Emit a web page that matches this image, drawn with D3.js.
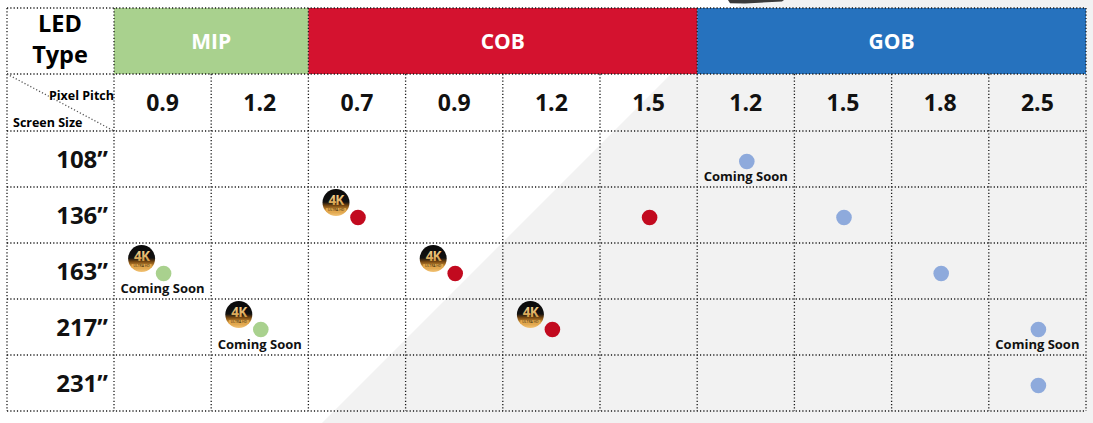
<!DOCTYPE html>
<html><head><meta charset="utf-8">
<script src="https://cdn.jsdelivr.net/npm/d3@7/dist/d3.min.js"></script>
<style>
html,body{margin:0;padding:0;background:#fff;}
svg{display:block;font-family:"Open Sans",sans-serif;font-weight:700;}
</style></head><body>
<svg id="chart" width="1093" height="423"></svg>
<script>
// ---- data ----
const ledTypes = ["MIP", "COB", "GOB"];
const typeColors = ["#a9d18e", "#d4122f", "#2672be"];
const dotColors = ["#a9d18e", "#c20a1f", "#8eaadc"];
const pitchLabels = ["0.9", "1.2", "0.7", "0.9", "1.2", "1.5", "1.2", "1.5", "1.8", "2.5"];
const pitchType = ["MIP", "MIP", "COB", "COB", "COB", "COB", "GOB", "GOB", "GOB", "GOB"];
const screenSizes = ["108\u201D", "136\u201D", "163\u201D", "217\u201D", "231\u201D"];
// available products: column index (pitch), screen size, 4K badge, coming soon
const availCol    = [6, 2, 5, 7, 0, 3, 8, 1, 4, 9, 9];
const availSize   = ["108\u201D", "136\u201D", "136\u201D", "136\u201D", "163\u201D", "163\u201D", "163\u201D", "217\u201D", "217\u201D", "217\u201D", "231\u201D"];
const avail4K     = [false, true, false, false, true, true, false, true, true, false, false];
const availSoon   = [true, false, false, false, true, false, false, true, false, true, false];

// ---- layout ----
const svg = d3.select("#chart");
const W = 1093, H = 423;
const gridL = 7, labelR = 114, gridR = 1086;
const gridT = 8, headB = 74, pitchB = 131, gridB = 411;

const x = d3.scaleBand().domain(d3.range(pitchLabels.length)).range([labelR, gridR]);
const y = d3.scaleBand().domain(screenSizes).range([pitchB, gridB]);

// defs
const defs = svg.append("defs");
const gold = defs.append("linearGradient").attr("id", "gold").attr("x1", 0).attr("y1", 0).attr("x2", 0).attr("y2", 1);
gold.append("stop").attr("offset", "0%").attr("stop-color", "#0a0a0a");
gold.append("stop").attr("offset", "48%").attr("stop-color", "#111");
gold.append("stop").attr("offset", "62%").attr("stop-color", "#7a4a12");
gold.append("stop").attr("offset", "80%").attr("stop-color", "#d89a3c");
gold.append("stop").attr("offset", "100%").attr("stop-color", "#f3c477");
const goldTxt = defs.append("linearGradient").attr("id", "goldTxt").attr("x1", 0).attr("y1", 0).attr("x2", 0).attr("y2", 1);
goldTxt.append("stop").attr("offset", "0%").attr("stop-color", "#fbe3a6");
goldTxt.append("stop").attr("offset", "100%").attr("stop-color", "#c98a2c");

// background: diagonal grey area
svg.append("rect").attr("width", W).attr("height", H).attr("fill", "#ffffff");
svg.append("path")
  .attr("d", `M745,0 L${W},0 L${W},${H} L${745 - H},${H} Z`)
  .attr("fill", "#f2f2f2");
// small dark sliver at the top (cropped object)
svg.append("path").attr("d", "M728,0 L784,0 L782,1.5 L745,3.5 L730,3.2 Z").attr("fill", "#3a3a3a");

// header type cells
const typeSpan = ledTypes.map(t => {
  const idx = pitchType.map((p, i) => p === t ? i : -1).filter(i => i >= 0);
  return {t, x0: x(idx[0]), x1: x(idx[idx.length - 1]) + x.bandwidth()};
});
svg.selectAll("rect.type").data(typeSpan).join("rect")
  .attr("x", d => d.x0).attr("y", gridT).attr("width", d => d.x1 - d.x0).attr("height", headB - gridT)
  .attr("fill", (d, i) => typeColors[i]);
svg.selectAll("text.type").data(typeSpan).join("text")
  .attr("x", d => (d.x0 + d.x1) / 2).attr("y", 48.5)
  .attr("text-anchor", "middle").attr("fill", "#fff").attr("font-size", 21)
  .text(d => d.t);

// dotted grid
const dot = {stroke: "#1a1a1a", "stroke-width": 1.3, "stroke-dasharray": "1.2 2.1"};
function dline(x1, y1, x2, y2, col) {
  const l = svg.append("line").attr("x1", x1).attr("y1", y1).attr("x2", x2).attr("y2", y2);
  Object.entries(dot).forEach(([k, v]) => l.attr(k, v));
  if (col) l.attr("stroke", col);
  return l;
}
[gridT, headB, pitchB, ...screenSizes.slice(1).map(s => y(s)), gridB].forEach(v => dline(gridL, v, gridR, v));
dline(gridL, gridT, gridL, gridB);
dline(labelR, gridT, labelR, gridB);
typeSpan.forEach(d => dline(d.x1, gridT, d.x1, gridB));
d3.range(1, pitchLabels.length).forEach(i => {
  if (pitchType[i] === pitchType[i - 1]) dline(x(i), headB, x(i), gridB);
});
// corner diagonal
dline(gridL, headB, labelR, pitchB, "#555");

// corner texts
svg.append("text").attr("x", 60).attr("y", 32).attr("text-anchor", "middle").attr("font-size", 23.5).text("LED");
svg.append("text").attr("x", 60).attr("y", 62.5).attr("text-anchor", "middle").attr("font-size", 23.5).text("Type");
svg.append("text").attr("x", 114).attr("y", 100).attr("text-anchor", "end").attr("font-size", 12.5).text("Pixel Pitch");
svg.append("text").attr("x", 13).attr("y", 126.5).attr("text-anchor", "start").attr("font-size", 12.5).text("Screen Size");

// pitch labels
svg.selectAll("text.pitch").data(pitchLabels).join("text")
  .attr("x", (d, i) => x(i) + x.bandwidth() / 2).attr("y", 111)
  .attr("text-anchor", "middle").attr("font-size", 23).attr("fill", "#111")
  .text(d => d);

// screen size labels
svg.selectAll("text.size").data(screenSizes).join("text")
  .attr("x", 108).attr("y", d => y(d) + y.bandwidth() / 2 + 8.5)
  .attr("text-anchor", "end").attr("font-size", 24).attr("fill", "#111")
  .text(d => d);

// availability marks
const pts = availCol.map((c, i) => ({
  c, s: availSize[i], k4: avail4K[i], soon: availSoon[i],
  color: dotColors[ledTypes.indexOf(pitchType[c])]
}));
const g = svg.append("g");
const px = d => x(d.c) + x.bandwidth() / 2 + 1;
const py = d => y(d.s) + y.bandwidth() / 2 + 2.5;

// 4K badges
const badges = g.selectAll("g.badge").data(pts.filter(d => d.k4)).join("g")
  .attr("transform", d => `translate(${px(d) - 22},${py(d) - 15})`);
badges.append("circle").attr("r", 13.5).attr("fill", "url(#gold)");
badges.append("text").attr("y", 2.5).attr("text-anchor", "middle").attr("font-size", 13.5)
  .attr("fill", "url(#goldTxt)").attr("letter-spacing", -0.8).text("4K");
badges.append("rect").attr("x", -10).attr("y", 5.6).attr("width", 20).attr("height", 3.8).attr("fill", "#e3a84e");
badges.append("text").attr("y", 8.9).attr("text-anchor", "middle").attr("font-size", 3.4)
  .attr("fill", "#2a1a05").attr("font-weight", 400).text("ULTRA HD");

// dots
g.selectAll("circle.dot").data(pts).join("circle")
  .attr("cx", px).attr("cy", py).attr("r", 7.8)
  .attr("fill", d => d.color);

// coming soon
g.selectAll("text.soon").data(pts.filter(d => d.soon)).join("text")
  .attr("x", d => px(d) - 1).attr("y", d => py(d) + 19.5)
  .attr("text-anchor", "middle").attr("font-size", 13).attr("fill", "#111")
  .text("Coming Soon");
</script>
</body></html>
